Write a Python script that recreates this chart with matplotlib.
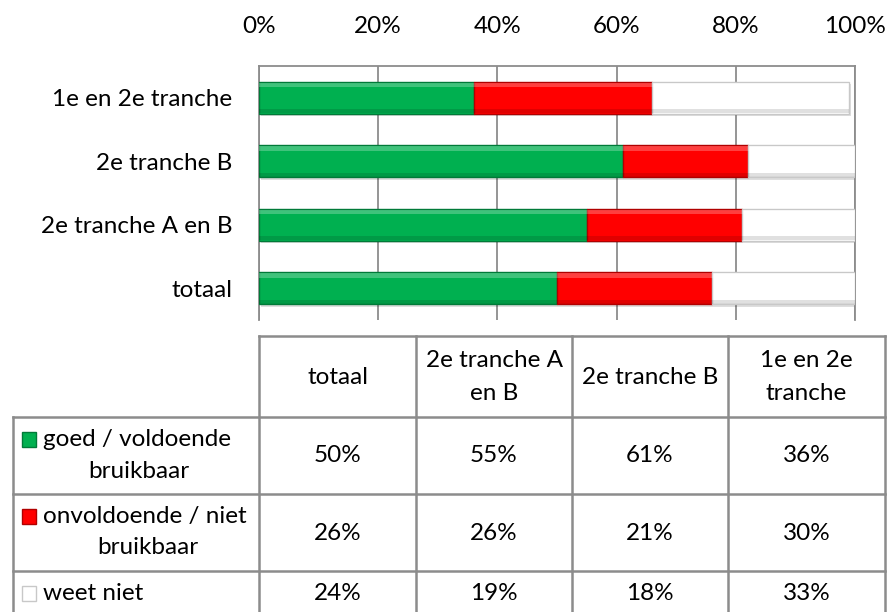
import numpy as np
import matplotlib.pyplot as plt
from matplotlib.patches import Rectangle

plt.rcParams['font.family'] = ['Lato', 'DejaVu Sans']

# data
groups = ['totaal', '2e tranche A en B', '2e tranche B', '1e en 2e tranche']
header_labels = [['totaal'], ['2e tranche A', 'en B'], ['2e tranche B'], ['1e en 2e', 'tranche']]
series_lines = [['goed / voldoende', 'bruikbaar'], ['onvoldoende / niet', 'bruikbaar'], ['weet niet']]
goed = [50, 55, 61, 36]
onvoldoende = [26, 26, 21, 30]
weet_niet = [24, 19, 18, 33]
colors = ['#00B050', '#FF0000', '#FFFFFF']
edges = ['#007A38', '#B00000', '#C8C8C8']
xticks = [0, 20, 40, 60, 80, 100]

FS = 17.5
W, H = 889, 612
fig = plt.figure(figsize=(W / 100, H / 100), dpi=100)
fig.patch.set_facecolor('white')

# bar chart
ax = fig.add_axes([259 / W, 1 - 320 / H, (855 - 259) / W, (320 - 66) / H])
y = np.arange(len(groups))
left = np.zeros(len(groups))
for vals, c, ec in zip([goed, onvoldoende, weet_niet], colors, edges):
    vals = np.array(vals, dtype=float)
    # soft shadow under bars
    ax.barh(y - 0.04, vals, left=left + 0.4, height=0.5, color='#000000', alpha=0.13,
            edgecolor='none', zorder=2)
    ax.barh(y, vals, left=left, height=0.5, color=c, edgecolor=ec, linewidth=1.0, zorder=3)
    # bevel: light strip on top, dark strip at bottom
    ax.barh(y + 0.2, vals, left=left, height=0.07, color='white', alpha=0.25,
            edgecolor='none', zorder=4)
    ax.barh(y - 0.215, vals, left=left, height=0.06, color='black', alpha=0.12,
            edgecolor='none', zorder=4)
    left += vals

ax.set_xlim(0, 100)
ax.set_ylim(-0.5, len(groups) - 0.5)
ax.set_xticks(xticks)
ax.set_xticklabels([f'{t}%' for t in xticks], fontsize=FS)
ax.xaxis.tick_top()
ax.tick_params(axis='x', length=0, pad=21)
ax.set_yticks(y)
ax.set_yticklabels(groups, fontsize=FS)
ax.tick_params(axis='y', length=0, pad=19)
ax.grid(axis='x', color='#8C8C8C', linewidth=1.3, zorder=0)
for s in ['left', 'right', 'top']:
    ax.spines[s].set_color('#8C8C8C')
    ax.spines[s].set_linewidth(1.3)
ax.spines['bottom'].set_visible(False)

# data table, drawn in pixel coordinates
tab = fig.add_axes([0, 0, 1, 1])
tab.set_xlim(0, W)
tab.set_ylim(H, 0)
tab.axis('off')
tab.patch.set_alpha(0)

col_x = [259, 416, 572, 728, 885]
row_y = [336, 417, 494, 571]
lc = '#8C8C8C'
lw = 1.8
tab.plot([col_x[0], col_x[-1]], [row_y[0], row_y[0]], color=lc, lw=lw)
for x in col_x:
    tab.plot([x, x], [row_y[0], H], color=lc, lw=lw)
tab.plot([13, 13], [row_y[1], H], color=lc, lw=lw)
for r in row_y[1:]:
    tab.plot([13, col_x[-1]], [r, r], color=lc, lw=lw)

line_gap = 33
for j, lines in enumerate(header_labels):
    cx = (col_x[j] + col_x[j + 1]) / 2
    cy = 377
    for k, ln in enumerate(lines):
        yy = cy + (k - (len(lines) - 1) / 2) * line_gap
        tab.text(cx, yy, ln, ha='center', va='center', fontsize=FS)

rows = [goed, onvoldoende, weet_niet]
row_centers = [456, 533, 593]
second_x = [139, 148]
for i, vals in enumerate(rows):
    cy = row_centers[i]
    for j, v in enumerate(vals):
        cx = (col_x[j] + col_x[j + 1]) / 2
        tab.text(cx, cy, f'{v}%', ha='center', va='center', fontsize=FS)
    lines = series_lines[i]
    if len(lines) == 2:
        ly1 = cy - 17
        tab.text(43, ly1, lines[0], ha='left', va='center', fontsize=FS)
        tab.text(second_x[i], cy + 15, lines[1], ha='center', va='center', fontsize=FS)
    else:
        ly1 = cy
        tab.text(43, ly1, lines[0], ha='left', va='center', fontsize=FS)
    tab.add_patch(Rectangle((22, ly1 - 7), 14, 15, facecolor=colors[i],
                            edgecolor=edges[i], lw=1.0))

fig.savefig('out.png', dpi=100)
